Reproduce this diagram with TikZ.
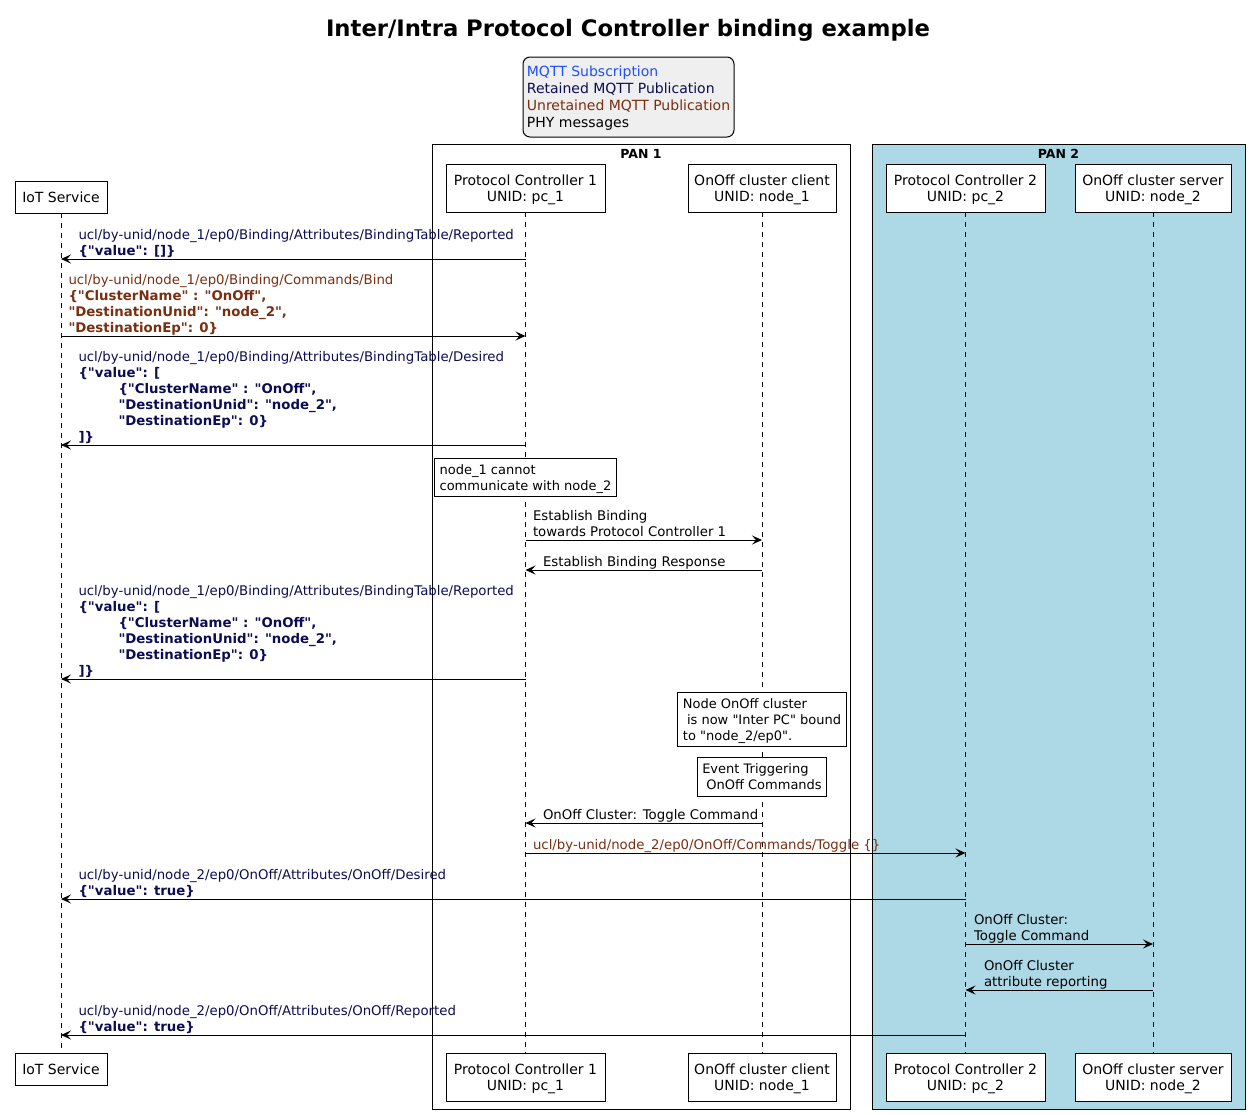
\documentclass[tikz,border=0pt]{standalone}
\usepackage{fontspec}
\setmainfont{DejaVu Sans}[Ligatures=TeXOff]
\usetikzlibrary{positioning}
\usetikzlibrary{arrows.meta}
\definecolor{subblue}{HTML}{1F4FFF}
\definecolor{retnavy}{HTML}{0C0C52}
\definecolor{unretbrown}{HTML}{7A2E10}
\definecolor{legendgray}{HTML}{EFEFEF}
\definecolor{panblue}{HTML}{ADD8E6}

\tikzset{
  actor/.style={draw, fill=white, align=center, inner sep=0pt, outer sep=0pt,
    text depth=-4pt, font=\fontsize{14}{16}\selectfont},
  lifeline/.style={line width=0.8pt, dash pattern=on 5pt off 5pt},
  msg/.style={-{Stealth[length=10pt,width=9pt,inset=4pt]}},
  msgtext/.style={anchor=south west, inner sep=0pt, align=left, text depth=0pt,
    yshift=3.5pt, font=\fontsize{13.3}{16}\selectfont},
  notebox/.style={draw, fill=white, align=left, inner xsep=5pt, inner ysep=6.5pt,
    text depth=0pt, font=\fontsize{13}{16}\selectfont},
  pantitle/.style={inner sep=0pt, font=\fontsize{12.5}{14}\selectfont\bfseries},
}

\begin{document}
\begin{tikzpicture}[x=1pt, y=-1pt, line width=1pt]
\useasboundingbox (0,0) rectangle (1250,1114);

% Title
\node[font=\fontsize{22.7}{26}\selectfont\bfseries] (title) at (628,30.5)
  {Inter/Intra Protocol Controller binding example};

% Legend
\node[draw, fill=legendgray,
    rounded corners=7pt,
    minimum width=211pt,
    minimum height=80pt,
    text depth=-7pt,
    align=left,
    font=\fontsize{14}{17}\selectfont
] (legend) at (628.5,97) {\textcolor{subblue}{MQTT Subscription}\\
  \textcolor{retnavy}{Retained MQTT Publication}\\
  \textcolor{unretbrown}{Unretained MQTT Publication}\\
  PHY messages};

% PAN boxes
\node[draw, outer sep=0pt,
    minimum width=418pt,
    minimum height=965pt
] (pan1) at (641,626.5) {};
\node[pantitle, below=4.5pt of pan1.north] (pan1title) {PAN 1};

\node[draw, fill=panblue, outer sep=0pt,
    minimum width=373pt,
    minimum height=965pt
] (pan2) at (1058.5,626.5) {};
\node[pantitle, below=4.5pt of pan2.north] (pan2title) {PAN 2};

% Participants (top)
\node[actor,
    minimum width=92pt,
    minimum height=32pt
] (iotTop) at (61,197) {IoT Service};

\node[actor,
    minimum width=159pt,
    minimum height=48pt
] (pc1Top) at (525.5,188) {Protocol Controller 1\\UNID: pc\_1};

\node[actor,
    minimum width=148pt,
    minimum height=48pt,
    right=83pt of pc1Top
] (clientTop) {OnOff cluster client\\UNID: node\_1};

\node[actor,
    minimum width=159pt,
    minimum height=48pt,
    right=50pt of clientTop
] (pc2Top) {Protocol Controller 2\\UNID: pc\_2};

\node[actor,
    minimum width=156pt,
    minimum height=48pt,
    right=30pt of pc2Top
] (serverTop) {OnOff cluster server\\UNID: node\_2};

% Participants (bottom)
\coordinate (botrow) at (0,1077);
\coordinate (botiot) at (0,1069);
\node[actor, minimum width=92pt, minimum height=32pt] (iotBot) at (iotTop |- botiot) {IoT Service};
\node[actor, minimum width=159pt, minimum height=48pt] (pc1Bot) at (pc1Top |- botrow) {Protocol Controller 1\\UNID: pc\_1};
\node[actor, minimum width=148pt, minimum height=48pt] (clientBot) at (clientTop |- botrow) {OnOff cluster client\\UNID: node\_1};
\node[actor, minimum width=159pt, minimum height=48pt] (pc2Bot) at (pc2Top |- botrow) {Protocol Controller 2\\UNID: pc\_2};
\node[actor, minimum width=156pt, minimum height=48pt] (serverBot) at (serverTop |- botrow) {OnOff cluster server\\UNID: node\_2};

% Lifelines
\draw[lifeline] (iotTop) -- (iotBot);
\draw[lifeline] (pc1Top) -- (pc1Bot);
\draw[lifeline] (clientTop) -- (clientBot);
\draw[lifeline] (pc2Top) -- (pc2Bot);
\draw[lifeline] (serverTop) -- (serverBot);

% Message rows
\coordinate (m1) at (0,259);
\coordinate (m2) at (0,336);
\coordinate (m3) at (0,445);
\coordinate (n1) at (0,477.5);
\coordinate (m4) at (0,540);
\coordinate (m5) at (0,570);
\coordinate (m6) at (0,679);
\coordinate (n2) at (0,719.5);
\coordinate (n3) at (0,777);
\coordinate (m7) at (0,823);
\coordinate (m8) at (0,853);
\coordinate (m9) at (0,899);
\coordinate (m10) at (0,944);
\coordinate (m11) at (0,990);
\coordinate (m12) at (0,1035);

% Binding table reported (empty)
\draw[msg] (pc1Top |- m1) -- (iotTop |- m1);
\node[msgtext, text=retnavy, xshift=17pt] (t1) at (iotTop |- m1)
  {ucl/by-unid/node\_1/ep0/Binding/Attributes/BindingTable/Reported\\
   \textbf{\{"value": []\}}};

% Bind command
\draw[msg] (iotTop |- m2) -- (pc1Top |- m2);
\node[msgtext, text=unretbrown, xshift=7pt] (t2) at (iotTop |- m2)
  {ucl/by-unid/node\_1/ep0/Binding/Commands/Bind\\
   \textbf{\{"ClusterName" : "OnOff",}\\
   \textbf{"DestinationUnid": "node\_2",}\\
   \textbf{"DestinationEp": 0\}}};

% Binding table desired
\draw[msg] (pc1Top |- m3) -- (iotTop |- m3);
\node[msgtext, text=retnavy, xshift=17pt] (t3) at (iotTop |- m3)
  {ucl/by-unid/node\_1/ep0/Binding/Attributes/BindingTable/Desired\\
   \textbf{\{"value": [}\\
   \hspace*{40pt}\textbf{\{"ClusterName" : "OnOff",}\\
   \hspace*{40pt}\textbf{"DestinationUnid": "node\_2",}\\
   \hspace*{40pt}\textbf{"DestinationEp": 0\}}\\
   \textbf{]\}}};

\node[notebox] (note1) at (pc1Top |- n1) {node\_1 cannot\\communicate with node\_2};

% PHY binding
\draw[msg] (pc1Top |- m4) -- (clientTop |- m4);
\node[msgtext, xshift=7pt] (t4) at (pc1Top |- m4)
  {Establish Binding\\towards Protocol Controller 1};

\draw[msg] (clientTop |- m5) -- (pc1Top |- m5);
\node[msgtext, xshift=17pt] (t5) at (pc1Top |- m5) {Establish Binding Response};

% Binding table reported
\draw[msg] (pc1Top |- m6) -- (iotTop |- m6);
\node[msgtext, text=retnavy, xshift=17pt] (t6) at (iotTop |- m6)
  {ucl/by-unid/node\_1/ep0/Binding/Attributes/BindingTable/Reported\\
   \textbf{\{"value": [}\\
   \hspace*{40pt}\textbf{\{"ClusterName" : "OnOff",}\\
   \hspace*{40pt}\textbf{"DestinationUnid": "node\_2",}\\
   \hspace*{40pt}\textbf{"DestinationEp": 0\}}\\
   \textbf{]\}}};

\node[notebox] (note2) at (clientTop |- n2)
  {Node OnOff cluster\\\ is now "Inter PC" bound\\to "node\_2/ep0".};
\node[notebox] (note3) at (clientTop |- n3) {Event Triggering\\\ OnOff Commands};

% Toggle
\draw[msg] (clientTop |- m7) -- (pc1Top |- m7);
\node[msgtext, xshift=17pt] (t7) at (pc1Top |- m7) {OnOff Cluster: Toggle Command};

\draw[msg] (pc1Top |- m8) -- (pc2Top |- m8);
\node[msgtext, text=unretbrown, xshift=7pt] (t8) at (pc1Top |- m8)
  {ucl/by-unid/node\_2/ep0/OnOff/Commands/Toggle \{\}};

\draw[msg] (pc2Top |- m9) -- (iotTop |- m9);
\node[msgtext, text=retnavy, xshift=17pt] (t9) at (iotTop |- m9)
  {ucl/by-unid/node\_2/ep0/OnOff/Attributes/OnOff/Desired\\
   \textbf{\{"value": true\}}};

\draw[msg] (pc2Top |- m10) -- (serverTop |- m10);
\node[msgtext, xshift=8pt] (t10) at (pc2Top |- m10) {OnOff Cluster:\\Toggle Command};

\draw[msg] (serverTop |- m11) -- (pc2Top |- m11);
\node[msgtext, xshift=18pt] (t11) at (pc2Top |- m11) {OnOff Cluster\\attribute reporting};

\draw[msg] (pc2Top |- m12) -- (iotTop |- m12);
\node[msgtext, text=retnavy, xshift=17pt] (t12) at (iotTop |- m12)
  {ucl/by-unid/node\_2/ep0/OnOff/Attributes/OnOff/Reported\\
   \textbf{\{"value": true\}}};

\end{tikzpicture}
\end{document}
